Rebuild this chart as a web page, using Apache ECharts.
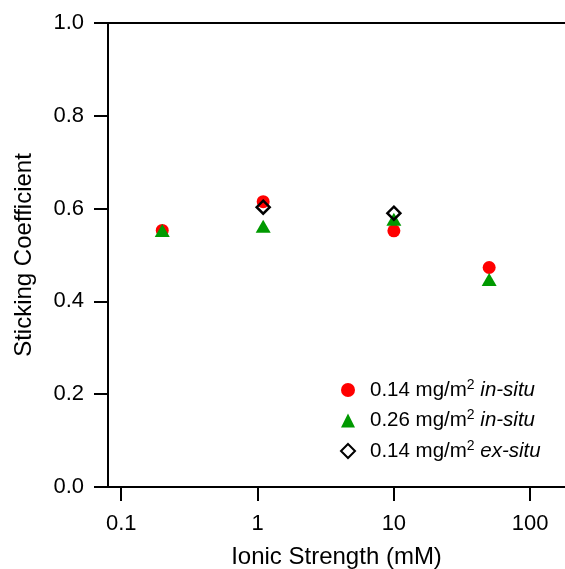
<!DOCTYPE html>
<html>
<head>
<meta charset="utf-8">
<script src="https://cdn.jsdelivr.net/npm/echarts@6/dist/echarts.min.js"></script>
<style>
html,body{margin:0;padding:0;background:#fff;}
#c{width:565px;height:569px;}
</style>
</head>
<body>
<div id="c"></div>
<script>
// Data
const ionicStrength = [0.2, 1.1, 10, 50];
const inSitu014 = [0.553, 0.615, 0.552, 0.473];
const inSitu026 = [0.553, 0.562, 0.577, 0.447];
const exSituX = [1.1, 10];
const exSitu014 = [0.603, 0.590];
const xTicks = [0.1, 1, 10, 100];
const seriesNames = ['0.14 mg/m2 in-situ', '0.26 mg/m2 in-situ', '0.14 mg/m2 ex-situ'];

const FONT = 'Liberation Sans';
const pair = (xs, ys) => xs.map((x, i) => [x, ys[i]]);
const LINE = {color: '#000', width: 2};

const chart = echarts.init(document.getElementById('c'), null, {renderer: 'canvas'});
chart.setOption({
  animation: false,
  backgroundColor: '#fff',
  textStyle: {fontFamily: FONT, color: '#000'},
  grid: {left: 108, top: 23, right: 0, bottom: 82, containLabel: false, outerBoundsMode: 'none'},
  xAxis: [{
    type: 'log', logBase: 10, min: 0.08, max: 180,
    name: 'Ionic Strength (mM)', nameLocation: 'middle', nameGap: 58,
    nameTextStyle: {fontFamily: FONT, fontSize: 24, color: '#000'},
    axisLine: {onZero: false, lineStyle: LINE},
    axisTick: {show: true, inside: false, length: 14, lineStyle: LINE, customValues: xTicks},
    axisLabel: {fontFamily: FONT, fontSize: 22, color: '#000', margin: 26, customValues: xTicks,
      formatter: v => String(+v.toPrecision(6))},
    splitLine: {show: false}, minorTick: {show: false}, minorSplitLine: {show: false}
  }, {
    type: 'log', logBase: 10, min: 0.08, max: 180, position: 'top',
    axisLine: {show: true, onZero: false, lineStyle: LINE},
    axisTick: {show: false}, axisLabel: {show: false},
    splitLine: {show: false}, minorTick: {show: false}
  }],
  yAxis: {
    type: 'value', min: 0, max: 1, interval: 0.2,
    name: 'Sticking Coefficient', nameLocation: 'middle', nameGap: 72,
    nameTextStyle: {fontFamily: FONT, fontSize: 24, color: '#000'},
    axisLine: {show: true, onZero: false, lineStyle: LINE},
    axisTick: {show: true, inside: false, length: 14, lineStyle: LINE},
    axisLabel: {fontFamily: FONT, fontSize: 22, color: '#000', margin: 24,
      formatter: v => v.toFixed(1)},
    splitLine: {show: false}
  },
  legend: {
    orient: 'vertical', left: 340, top: 378, padding: 0,
    itemWidth: 14, itemHeight: 14, itemGap: 8,
    data: [
      {name: seriesNames[0], icon: 'circle'},
      {name: seriesNames[1], icon: 'triangle'},
      {name: seriesNames[2], icon: 'diamond'}
    ],
    formatter: function (name) {
      const parts = name.match(/^(.*)2 (.*)$/);
      return '{n|' + parts[1] + '}{s|2}{i| ' + parts[2] + '}';
    },
    textStyle: {
      fontFamily: FONT, color: '#000',
      rich: {
        n: {fontFamily: FONT, fontSize: 20.5, color: '#000', lineHeight: 24, padding: [0, 0, 0, 10]},
        s: {fontFamily: FONT, fontSize: 14, color: '#000', lineHeight: 2, verticalAlign: 'top'},
        i: {fontFamily: FONT, fontSize: 20.5, fontStyle: 'italic', color: '#000', lineHeight: 24}
      }
    }
  },
  series: [
    {name: seriesNames[0], type: 'scatter', symbol: 'circle', symbolSize: 13,
      itemStyle: {color: '#ff0000', opacity: 1}, data: pair(ionicStrength, inSitu014), z: 2},
    {name: seriesNames[1], type: 'scatter', symbol: 'triangle', symbolSize: [15, 13],
      itemStyle: {color: '#009900', opacity: 1}, data: pair(ionicStrength, inSitu026), z: 3},
    {name: seriesNames[2], type: 'scatter', symbol: 'diamond', symbolSize: 13,
      itemStyle: {color: 'rgba(255,255,255,0)', borderColor: '#000', borderWidth: 2.5, opacity: 1},
      data: pair(exSituX, exSitu014), z: 4}
  ]
});
</script>
</body>
</html>
